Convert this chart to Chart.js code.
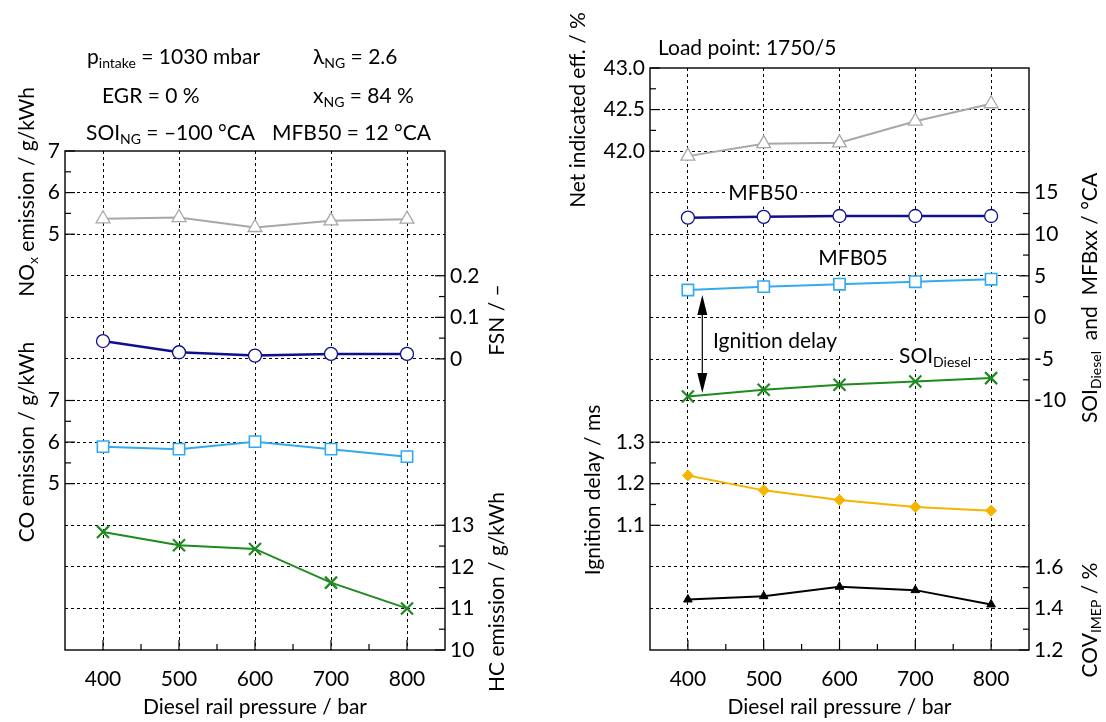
<!DOCTYPE html>
<html>
<head>
<meta charset="utf-8">
<script src="https://cdn.jsdelivr.net/npm/chart.js@4.4.0/dist/chart.umd.min.js"></script>
<style>
  html, body { margin: 0; padding: 0; background: #fff; }
  #wrap { position: relative; width: 1106px; height: 722px; overflow: hidden; }
  .panel { position: absolute; top: 0; width: 553px; height: 722px; }
</style>
</head>
<body>
<div id="wrap">
  <div class="panel" style="left:0"><canvas id="leftChart"></canvas></div>
  <div class="panel" style="left:553px"><canvas id="rightChart"></canvas></div>
</div>
<script>
// ---------------------------------------------------------------------------
// Data
// ---------------------------------------------------------------------------
const pressure = [400, 500, 600, 700, 800];

// left panel: emissions
const noxValues = [5.37, 5.40, 5.16, 5.32, 5.36];
const fsnValues = [0.043, 0.016, 0.008, 0.012, 0.012];
const coValues  = [5.89, 5.83, 6.01, 5.83, 5.65];
const hcValues  = [12.84, 12.52, 12.43, 11.62, 11.00];

// right panel: combustion
const effValues      = [41.94, 42.09, 42.10, 42.36, 42.57];
const mfb50Values    = [12.0, 12.1, 12.2, 12.2, 12.2];
const mfb05Values    = [3.3, 3.7, 4.0, 4.3, 4.6];
const soiValues      = [-9.5, -8.7, -8.1, -7.7, -7.3];
const ignDelayValues = [1.220, 1.184, 1.161, 1.144, 1.135];
const covValues      = [1.443, 1.459, 1.504, 1.488, 1.419];

// tick labels
const xTicks    = [400, 500, 600, 700, 800];
const noxTicks  = [5, 6, 7];
const fsnTicks  = [0, 0.1, 0.2];
const coTicks   = [5, 6, 7];
const hcTicks   = [10, 11, 12, 13];
const effTicks  = [42.0, 42.5, 43.0];
const mfbTicks  = [-10, -5, 0, 5, 10, 15];
const ignTicks  = [1.1, 1.2, 1.3];
const covTicks  = [1.2, 1.4, 1.6];

// ---------------------------------------------------------------------------
// Style
// ---------------------------------------------------------------------------
const FONT = 'Lato, "Open Sans", sans-serif';
const FS = 21;
const GREY = '#a8a8a8', NAVY = '#10108c', SKY = '#33aaee', GREEN = '#1f8a1f', GOLD = '#f5b400';

Chart.defaults.font.family = FONT;
Chart.defaults.font.size = FS;
Chart.defaults.color = '#000';

const toXY = vals => pressure.map((p, i) => ({ x: p, y: vals[i] }));
const mids = arr => arr.slice(1).map((v, i) => (v + arr[i]) / 2);

function series(label, vals, axis, color, style, extra) {
  return Object.assign({
    label, data: toXY(vals), yAxisID: axis,
    borderColor: color, borderWidth: 2, tension: 0,
    pointStyle: style, pointRadius: 7, pointHoverRadius: 7,
    pointBackgroundColor: '#fff', pointBorderColor: color, pointBorderWidth: 1.3
  }, extra || {});
}

// text with _{sub} parts
function drawRich(ctx, x, y, text, opt) {
  opt = opt || {};
  const size = opt.size || FS, sub = Math.round(size * 0.68);
  const parts = [];
  text.split(/(_\{[^}]*\})/).forEach(s => {
    if (!s) return;
    if (s.startsWith('_{')) parts.push({ t: s.slice(2, -1), sub: true });
    else parts.push({ t: s, sub: false });
  });
  ctx.save();
  ctx.translate(x, y);
  if (opt.rotate) ctx.rotate(-Math.PI / 2);
  ctx.textBaseline = 'middle';
  ctx.textAlign = 'left';
  const w = parts.map(p => { ctx.font = `${p.sub ? sub : size}px ${FONT}`; return ctx.measureText(p.t).width; });
  const total = w.reduce((a, b) => a + b, 0);
  let cx = opt.align === 'left' ? 0 : opt.align === 'right' ? -total : -total / 2;
  if (opt.bg) {
    ctx.fillStyle = '#fff';
    ctx.fillRect(cx - 3, -size * 0.6, total + 6, size * 1.25);
  }
  ctx.fillStyle = '#000';
  parts.forEach((p, i) => {
    ctx.font = `${p.sub ? sub : size}px ${FONT}`;
    ctx.fillText(p.t, cx, p.sub ? size * 0.33 : 0);
    cx += w[i];
  });
  ctx.restore();
}

// frame, inward ticks, tick labels, titles and notes
function decorPlugin(cfg) {
  return {
    id: 'decor',
    afterDraw(chart) {
      const { ctx, chartArea: a, scales } = chart;
      const off = cfg.offsetX;
      ctx.save();
      ctx.strokeStyle = '#000';
      ctx.lineWidth = 1.4;
      ctx.strokeRect(a.left, a.top, a.right - a.left, a.bottom - a.top);

      ctx.lineWidth = 1.2;
      const tick = (x1, y1, x2, y2) => { ctx.beginPath(); ctx.moveTo(x1, y1); ctx.lineTo(x2, y2); ctx.stroke(); };

      // x ticks (inward from the bottom)
      xTicks.forEach(v => { const px = scales.x.getPixelForValue(v); tick(px, a.bottom, px, a.bottom - 10); });
      mids(xTicks).forEach(v => { const px = scales.x.getPixelForValue(v); tick(px, a.bottom, px, a.bottom - 6); });

      // y axes
      cfg.axes.forEach(ax => {
        const s = scales[ax.id];
        const left = ax.side === 'left';
        const x0 = left ? a.left : a.right;
        const dir = left ? 1 : -1;
        ax.ticks.forEach(v => { const py = s.getPixelForValue(v); tick(x0, py, x0 + dir * 10, py); });
        mids(ax.ticks).forEach(v => { const py = s.getPixelForValue(v); tick(x0, py, x0 + dir * 6, py); });
        ctx.font = `${FS}px ${FONT}`;
        ctx.fillStyle = '#000';
        ctx.textBaseline = 'middle';
        ctx.textAlign = left ? 'right' : 'left';
        ax.ticks.forEach(v => {
          const label = ax.fmt ? ax.fmt(v) : String(v);
          ctx.fillText(label, left ? a.left - 5 : a.right + 5, s.getPixelForValue(v));
        });
      });

      cfg.titles.forEach(t => drawRich(ctx, t.x - off, t.y, t.text, { rotate: true }));
      cfg.notes.forEach(n => drawRich(ctx, n.x - off, n.y, n.text, { align: n.align, bg: n.bg }));

      if (cfg.arrow) {
        const ar = cfg.arrow, s = scales[ar.axis];
        const px = scales.x.getPixelForValue(ar.x);
        const y1 = s.getPixelForValue(ar.top), y2 = s.getPixelForValue(ar.bottom);
        const hl = 20, hw = 5;
        ctx.fillStyle = '#000';
        tick(px, y1 + hl, px, y2 - hl);
        ctx.beginPath(); ctx.moveTo(px, y1); ctx.lineTo(px - hw, y1 + hl); ctx.lineTo(px + hw, y1 + hl); ctx.closePath(); ctx.fill();
        ctx.beginPath(); ctx.moveTo(px, y2); ctx.lineTo(px - hw, y2 - hl); ctx.lineTo(px + hw, y2 - hl); ctx.closePath(); ctx.fill();
      }
      ctx.restore();
    }
  };
}

function xScale() {
  return {
    type: 'linear', min: 350, max: 850,
    afterFit: s => { s.height = 72; },
    ticks: { stepSize: 50, padding: 17, autoSkip: false, maxRotation: 0,
             callback: v => xTicks.includes(v) ? String(v) : '' },
    grid: { drawTicks: false, lineWidth: 1,
            color: c => (c.tick && xTicks.includes(c.tick.value)) ? '#000' : 'rgba(0,0,0,0)' },
    border: { display: false, dash: [3, 3] },
    title: { display: true, text: 'Diesel rail pressure / bar', padding: { top: 0, bottom: 2 } }
  };
}

function gridScale(min, max, step) {
  return {
    position: 'left', min, max,
    afterFit: s => { s.width = 0; },
    ticks: { display: false, stepSize: step, maxTicksLimit: 100 },
    grid: { drawTicks: false, lineWidth: 1,
            color: c => (c.tick && (c.tick.value === min || c.tick.value === max)) ? 'rgba(0,0,0,0)' : '#000' },
    border: { display: false, dash: [3, 3] }
  };
}

const hidden = (min, max) => ({ display: false, min, max });

// ---------------------------------------------------------------------------
// Left panel: emissions
// ---------------------------------------------------------------------------
new Chart(document.getElementById('leftChart'), {
  type: 'line',
  data: {
    datasets: [
      series('NOx', noxValues, 'yNox', GREY, 'triangle', { pointRadius: 8 }),
      series('FSN', fsnValues, 'yFsn', NAVY, 'circle', { borderWidth: 2.5, pointRadius: 6.5 }),
      series('CO', coValues, 'yCo', SKY, 'rect', { pointRadius: 8, pointBorderWidth: 1.6 }),
      series('HC', hcValues, 'yHc', GREEN, 'crossRot', { pointRadius: 8.5, pointBorderWidth: 2.2 })
    ]
  },
  options: {
    responsive: true, maintainAspectRatio: false, animation: false,
    layout: { padding: { left: 65, right: 108, top: 151, bottom: 0 } },
    plugins: { legend: { display: false }, tooltip: { enabled: false } },
    scales: {
      x: xScale(),
      yNox: gridScale(-5, 7, 1),
      yFsn: hidden(-0.7, 0.5),
      yCo: hidden(1, 13),
      yHc: hidden(10, 22)
    }
  },
  plugins: [decorPlugin({
    offsetX: 0,
    axes: [
      { id: 'yNox', side: 'left', ticks: noxTicks },
      { id: 'yFsn', side: 'right', ticks: fsnTicks },
      { id: 'yCo', side: 'left', ticks: coTicks },
      { id: 'yHc', side: 'right', ticks: hcTicks }
    ],
    titles: [
      { text: 'NO_{x} emission / g/kWh', x: 27, y: 192 },
      { text: 'CO emission / g/kWh', x: 27, y: 442 },
      { text: 'FSN / –', x: 497, y: 320 },
      { text: 'HC emission / g/kWh', x: 497, y: 592 }
    ],
    notes: [
      { text: 'p_{intake} = 1030 mbar', x: 87, y: 57, align: 'left' },
      { text: 'λ_{NG} = 2.6', x: 313, y: 57, align: 'left' },
      { text: 'EGR = 0 %', x: 102, y: 96, align: 'left' },
      { text: 'x_{NG} = 84 %', x: 313, y: 96, align: 'left' },
      { text: 'SOI_{NG} = –100 °CA', x: 86, y: 133, align: 'left' },
      { text: 'MFB50 = 12 °CA', x: 272, y: 133, align: 'left' }
    ]
  })]
});

// ---------------------------------------------------------------------------
// Right panel: efficiency, combustion phasing, ignition delay, COV
// ---------------------------------------------------------------------------
new Chart(document.getElementById('rightChart'), {
  type: 'line',
  data: {
    datasets: [
      series('Net indicated eff.', effValues, 'yEff', GREY, 'triangle', { pointRadius: 8 }),
      series('MFB50', mfb50Values, 'yMfb', NAVY, 'circle', { borderWidth: 2.5, pointRadius: 6.5 }),
      series('MFB05', mfb05Values, 'yMfb', SKY, 'rect', { pointRadius: 8, pointBorderWidth: 1.6 }),
      series('SOI Diesel', soiValues, 'yMfb', GREEN, 'crossRot', { pointRadius: 8.5, pointBorderWidth: 2.2 }),
      series('Ignition delay', ignDelayValues, 'yIgn', GOLD, 'rectRot',
             { pointRadius: 5.5, pointBackgroundColor: GOLD, pointBorderWidth: 1 }),
      series('COV IMEP', covValues, 'yCov', '#000', 'triangle',
             { pointRadius: 5, pointBackgroundColor: '#000', pointBorderWidth: 1 })
    ]
  },
  options: {
    responsive: true, maintainAspectRatio: false, animation: false,
    layout: { padding: { left: 97, right: 77, top: 68, bottom: 0 } },
    plugins: { legend: { display: false }, tooltip: { enabled: false } },
    scales: {
      x: xScale(),
      yEff: gridScale(36, 43, 0.5),
      yMfb: hidden(-40, 30),
      yIgn: hidden(0.8, 2.2),
      yCov: hidden(1.2, 4.0)
    }
  },
  plugins: [decorPlugin({
    offsetX: 553,
    axes: [
      { id: 'yEff', side: 'left', ticks: effTicks, fmt: v => v.toFixed(1) },
      { id: 'yMfb', side: 'right', ticks: mfbTicks },
      { id: 'yIgn', side: 'left', ticks: ignTicks },
      { id: 'yCov', side: 'right', ticks: covTicks }
    ],
    titles: [
      { text: 'Net indicated eff. / %', x: 578, y: 110 },
      { text: 'Ignition delay / ms', x: 593, y: 490 },
      { text: 'SOI_{Diesel}  and  MFBxx / °CA', x: 1090, y: 298 },
      { text: 'COV_{IMEP} / %', x: 1090, y: 620 }
    ],
    notes: [
      { text: 'Load point: 1750/5', x: 658, y: 48, align: 'left' },
      { text: 'MFB50', x: 763, y: 193, bg: true },
      { text: 'MFB05', x: 853, y: 258, bg: true },
      { text: 'Ignition delay', x: 713, y: 341, align: 'left', bg: true },
      { text: 'SOI_{Diesel}', x: 899, y: 356, align: 'left', bg: true }
    ],
    arrow: { axis: 'yMfb', x: 419, top: 2.7, bottom: -9.1 }
  })]
});
</script>
</body>
</html>
